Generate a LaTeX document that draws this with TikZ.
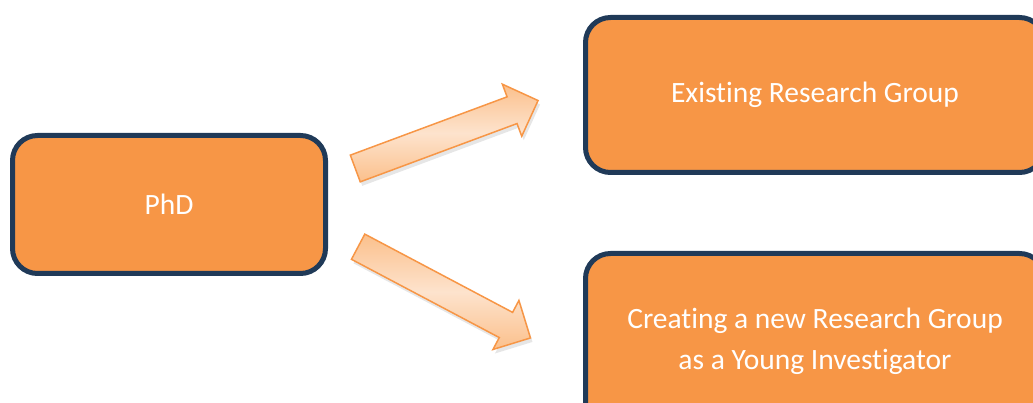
\documentclass[tikz,border=0pt]{standalone}
\usepackage{fontspec}
\setmainfont[Ligatures=CommonOff]{Carlito}
\usetikzlibrary{shapes.arrows,shadows}
\definecolor{boxfill}{HTML}{F79646}
\definecolor{boxline}{HTML}{203A58}
\definecolor{arrowline}{HTML}{F79646}
\definecolor{arrowedge}{HTML}{FBC08C}
\definecolor{arrowmid}{HTML}{FDE3CD}
\tikzset{
  stagebox/.style={draw=boxline, line width=5pt, fill=boxfill, rounded corners=25pt,
    text=white, align=center, font=\fontsize{29.5}{41}\selectfont, inner sep=0pt},
  blockarrow/.style={single arrow, draw=arrowline, line width=1.5pt,
    top color=arrowedge, bottom color=arrowedge, middle color=arrowmid,
    inner sep=13.5pt, single arrow head extend=13.5pt, single arrow head indent=0pt,
    minimum height=195pt,
    drop shadow={opacity=0.2, shadow xshift=2pt, shadow yshift=-4pt}}
}
\begin{document}
\begin{tikzpicture}[x=1pt, y=-1pt]
\useasboundingbox (0,0) rectangle (1033,403);
\node[stagebox, minimum width=313pt, minimum height=138pt] (phd) at (169,204.5) {PhD};
\node[stagebox, minimum width=459pt, minimum height=155pt] (exist) at (815,95) {Existing Research Group};
\node[stagebox, minimum width=459pt, minimum height=175pt] (newgrp) at (815,341) {Creating a new Research Group\\as a Young Investigator};
\node[blockarrow, rotate=20.4] (up) at (440,137) {};
\node[blockarrow, rotate=-27.9] (down) at (438,289) {};
\end{tikzpicture}
\end{document}
